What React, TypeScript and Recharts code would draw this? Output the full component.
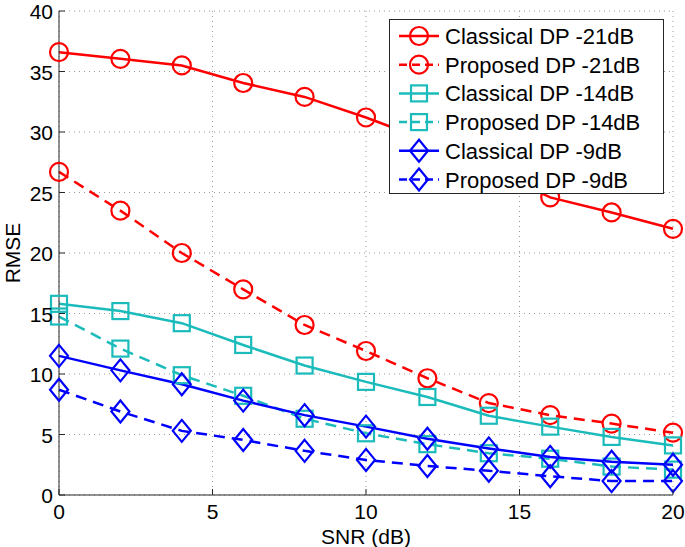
import React from "react"
import { CartesianGrid, Line, LineChart, XAxis, YAxis } from "recharts"

const snr = [0, 2, 4, 6, 8, 10, 12, 14, 16, 18, 20]
const classical21 = [36.6, 36.05, 35.5, 34.05, 32.9, 31.2, 29.3, 27.0, 24.6, 23.35, 22.0]
const proposed21 = [26.7, 23.5, 20.0, 17.0, 14.05, 11.9, 9.65, 7.6, 6.6, 5.9, 5.15]
const classical14 = [15.8, 15.2, 14.2, 12.4, 10.7, 9.35, 8.1, 6.55, 5.65, 4.8, 4.1]
const proposed14 = [14.75, 12.1, 9.9, 8.2, 6.3, 5.1, 4.2, 3.45, 3.0, 2.35, 2.1]
const classical9 = [11.5, 10.3, 9.15, 7.8, 6.6, 5.65, 4.65, 3.85, 3.15, 2.75, 2.5]
const proposed9 = [8.7, 6.9, 5.3, 4.55, 3.65, 2.9, 2.4, 2.0, 1.55, 1.15, 1.15]

const xTicks = [0, 5, 10, 15, 20]
const yTicks = [0, 5, 10, 15, 20, 25, 30, 35, 40]

const series = [
  { key: "c21", name: "Classical DP -21dB", values: classical21, color: "#ff0000", dashed: false, marker: "circle" },
  { key: "p21", name: "Proposed DP -21dB", values: proposed21, color: "#ff0000", dashed: true, marker: "circle" },
  { key: "c14", name: "Classical DP -14dB", values: classical14, color: "#1cbbbb", dashed: false, marker: "square" },
  { key: "p14", name: "Proposed DP -14dB", values: proposed14, color: "#1cbbbb", dashed: true, marker: "square" },
  { key: "c9", name: "Classical DP -9dB", values: classical9, color: "#0000ff", dashed: false, marker: "diamond" },
  { key: "p9", name: "Proposed DP -9dB", values: proposed9, color: "#0000ff", dashed: true, marker: "diamond" },
]

const data = snr.map((s, i) => {
  const row: Record<string, number> = { snr: s }
  series.forEach((sr) => {
    row[sr.key] = sr.values[i]
  })
  return row
})

const FONT = "'Liberation Sans', Arial, Helvetica, sans-serif"
const AXIS = "#262626"

function Marker({ cx, cy, type, color }: { cx: number; cy: number; type: string; color: string }) {
  if (type === "circle") {
    return <circle cx={cx} cy={cy} r={9} fill="none" stroke={color} strokeWidth={2.2} />
  }
  if (type === "square") {
    return <rect x={cx - 8} y={cy - 8} width={16} height={16} fill="none" stroke={color} strokeWidth={2.2} />
  }
  return (
    <polygon
      points={`${cx},${cy - 11} ${cx + 9},${cy} ${cx},${cy + 11} ${cx - 9},${cy}`}
      fill="none"
      stroke={color}
      strokeWidth={2.2}
    />
  )
}

const BottomTick = (props: any) => {
  const { x, y, payload } = props
  return (
    <g>
      <line x1={x} x2={x} y1={y} y2={y - 6} stroke={AXIS} />
      <text x={x} y={y + 24} textAnchor="middle" fontSize={21} fill="#000" fontFamily={FONT}>
        {payload.value}
      </text>
    </g>
  )
}

const TopTick = (props: any) => {
  const { x, y } = props
  return <line x1={x} x2={x} y1={y} y2={y + 6} stroke={AXIS} />
}

const LeftTick = (props: any) => {
  const { x, y, payload } = props
  return (
    <g>
      <line x1={x} x2={x + 6} y1={y} y2={y} stroke={AXIS} />
      <text x={x - 6} y={y + 8} textAnchor="end" fontSize={21} fill="#000" fontFamily={FONT}>
        {payload.value}
      </text>
    </g>
  )
}

const RightTick = (props: any) => {
  const { x, y } = props
  return <line x1={x} x2={x - 6} y1={y} y2={y} stroke={AXIS} />
}

export default function App() {
  return (
    <div style={{ position: "absolute", left: 0, top: 0, width: 685, height: 547, background: "#fff" }}>
      <LineChart width={685} height={547} data={data} margin={{ top: 11, right: 12, bottom: 0, left: 0 }}>
        <CartesianGrid stroke="#9a9a9a" strokeDasharray="1 4" vertical horizontal xAxisId="bottom" yAxisId="left" />
        <XAxis
          xAxisId="bottom"
          dataKey="snr"
          type="number"
          domain={[0, 20]}
          ticks={xTicks}
          height={52}
          tickSize={0}
          tickMargin={0}
          axisLine={{ stroke: AXIS }}
          tick={BottomTick}
          interval={0}
        />
        <XAxis
          xAxisId="top"
          orientation="top"
          dataKey="snr"
          type="number"
          domain={[0, 20]}
          ticks={xTicks}
          height={0}
          tickSize={0}
          tickMargin={0}
          axisLine={{ stroke: AXIS }}
          tick={TopTick}
          interval={0}
        />
        <YAxis
          yAxisId="left"
          type="number"
          domain={[0, 40]}
          ticks={yTicks}
          width={59}
          tickSize={0}
          tickMargin={0}
          axisLine={{ stroke: AXIS }}
          tick={LeftTick}
          interval={0}
        />
        <YAxis
          yAxisId="right"
          orientation="right"
          type="number"
          domain={[0, 40]}
          ticks={yTicks}
          width={0}
          tickSize={0}
          tickMargin={0}
          axisLine={{ stroke: AXIS }}
          tick={RightTick}
          interval={0}
        />
        {series.map((s) => (
          <Line
            key={s.key}
            xAxisId="bottom"
            yAxisId="left"
            dataKey={s.key}
            name={s.name}
            stroke={s.color}
            strokeWidth={2.5}
            strokeDasharray={s.dashed ? "11 7" : undefined}
            isAnimationActive={false}
            dot={(p: any) => <Marker key={`${s.key}-${p.index}`} cx={p.cx} cy={p.cy} type={s.marker} color={s.color} />}
            activeDot={false}
          />
        ))}
        <text x={366} y={544} textAnchor="middle" fontSize={21} fontFamily={FONT} fill="#000">
          SNR (dB)
        </text>
        <text
          x={0}
          y={0}
          transform="translate(20 253) rotate(-90)"
          textAnchor="middle"
          fontSize={21}
          fontFamily={FONT}
          fill="#000"
        >
          RMSE
        </text>
      </LineChart>
      <div
        style={{
          position: "absolute",
          left: 389,
          top: 19,
          width: 275,
          height: 175,
          background: "#fff",
          border: `1px solid ${AXIS}`,
          boxSizing: "border-box",
        }}
      >
        <svg width={275} height={175} style={{ position: "absolute", left: 0, top: 0 }}>
          {series.map((s, i) => {
            const cy = 16 + i * 28.7
            return (
              <g key={s.key}>
                <line
                  x1={9}
                  x2={49}
                  y1={cy}
                  y2={cy}
                  stroke={s.color}
                  strokeWidth={2.5}
                  strokeDasharray={s.dashed ? "8 5" : undefined}
                />
                <Marker cx={29} cy={cy} type={s.marker} color={s.color} />
                <text x={55} y={cy + 8} fontSize={22} fontFamily={FONT} fill="#000">
                  {s.name}
                </text>
              </g>
            )
          })}
        </svg>
      </div>
    </div>
  )
}
